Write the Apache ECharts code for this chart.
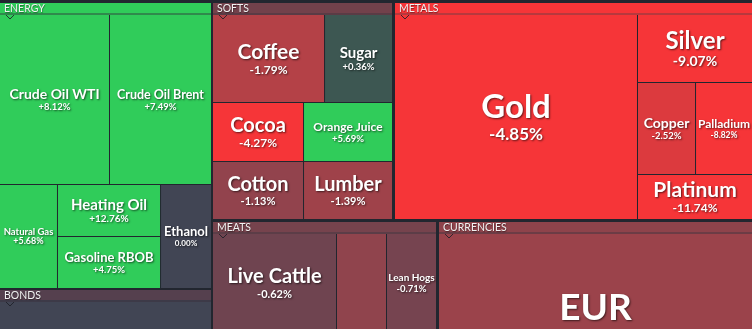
<!DOCTYPE html>
<html>
<head>
<meta charset="utf-8">
<script src="https://cdn.jsdelivr.net/npm/echarts@6/dist/echarts.min.js"></script>
<style>
  html, body { margin: 0; padding: 0; background: #22262f; }
  #chart { width: 752px; height: 329px; }
</style>
</head>
<body>
<div id="chart"></div>
<script>
// ---------------- data ----------------
const groupNames = ['ENERGY', 'BONDS', 'SOFTS', 'METALS', 'MEATS', 'CURRENCIES'];

const energyNames   = ['Crude Oil WTI', 'Crude Oil Brent', 'Natural Gas', 'Heating Oil', 'Gasoline RBOB', 'Ethanol'];
const energyWeights = [18.70, 17.34, 6.03, 5.36, 5.36, 5.30];
const energyChanges = [8.12, 7.49, 5.68, 12.76, 4.75, 0.00];

const bondsNames   = ['30 Year Bond'];
const bondsWeights = [1];
const bondsChanges = [0.00];

const softsNames   = ['Coffee', 'Sugar', 'Cocoa', 'Cotton', 'Orange Juice', 'Lumber'];
const softsWeights = [9.86, 5.98, 5.37, 5.28, 5.25, 5.16];
const softsChanges = [-1.79, 0.36, -4.27, -1.13, 5.69, -1.39];

const metalsNames   = ['Gold', 'Silver', 'Copper', 'Palladium', 'Platinum'];
const metalsWeights = [49.82, 7.82, 5.34, 5.24, 5.18];
const metalsChanges = [-4.85, -9.07, -2.52, -8.82, -11.74];

const meatsNames   = ['Live Cattle', 'Feeder Cattle', 'Lean Hogs'];
const meatsWeights = [124, 50, 50];
const meatsChanges = [-0.62, -1.10, -0.71];

const currenciesNames   = ['EUR'];
const currenciesWeights = [1];
const currenciesChanges = [-1.30];

// ---------------- styles ----------------
const BG = '#22262f';
const FONT = 'Lato';
const colorStops = [[-3, '#f63538'], [-2, '#bf4045'], [-1, '#8b444e'], [0, '#414554'], [1, '#35764e'], [2, '#2f9e4f'], [3, '#30cc5a']];
const headerColor = { ENERGY: '#30cc5a', BONDS: '#55404e', SOFTS: '#72414b', METALS: '#f63538', MEATS: '#76434d', CURRENCIES: '#8e434b' };
const headerLine  = { ENERGY: '#2f8a4c', BONDS: '#3d3a48', SOFTS: '#5a3b45', METALS: '#b8383d', MEATS: '#5c3d47', CURRENCIES: '#6c3c45' };
const boxes = {
  ENERGY:     { left: 0,   top: 3,   width: 211, height: 285 },
  BONDS:      { left: 0,   top: 290, width: 211, height: 140 },
  SOFTS:      { left: 213, top: 3,   width: 179, height: 216 },
  METALS:     { left: 395, top: 3,   width: 357, height: 216 },
  MEATS:      { left: 213, top: 222, width: 223, height: 110 },
  CURRENCIES: { left: 439, top: 222, width: 313, height: 180 }
};
const HEADER_H = 12;
const nameFont = {
  'Crude Oil WTI': 14, 'Crude Oil Brent': 12.5, 'Natural Gas': 9.5, 'Heating Oil': 15, 'Gasoline RBOB': 13, 'Ethanol': 13,
  '30 Year Bond': 12,
  'Coffee': 21, 'Sugar': 15, 'Cocoa': 20, 'Cotton': 20, 'Orange Juice': 12, 'Lumber': 20,
  'Gold': 33, 'Silver': 24, 'Copper': 14, 'Palladium': 12, 'Platinum': 21,
  'Live Cattle': 20, 'Feeder Cattle': 12, 'Lean Hogs': 10,
  'EUR': 37
};
const pctFont = {
  'Crude Oil WTI': 9.5, 'Crude Oil Brent': 9.5, 'Natural Gas': 9, 'Heating Oil': 10, 'Gasoline RBOB': 9.5, 'Ethanol': 8,
  '30 Year Bond': 9,
  'Coffee': 12, 'Sugar': 9.5, 'Cocoa': 12, 'Cotton': 11, 'Orange Juice': 9.5, 'Lumber': 11,
  'Gold': 17, 'Silver': 14, 'Copper': 9.5, 'Palladium': 8.5, 'Platinum': 12,
  'Live Cattle': 11, 'Feeder Cattle': 9, 'Lean Hogs': 9.5,
  'EUR': 18
};
const hiddenLabels = ['Feeder Cattle'];

function hexToRgb(h) { return [1, 3, 5].map(i => parseInt(h.substr(i, 2), 16)); }
function changeColor(v) {
  if (v <= colorStops[0][0]) return colorStops[0][1];
  const last = colorStops[colorStops.length - 1];
  if (v >= last[0]) return last[1];
  for (let i = 0; i < colorStops.length - 1; i++) {
    const a = colorStops[i], b = colorStops[i + 1];
    if (v >= a[0] && v <= b[0]) {
      const t = (v - a[0]) / (b[0] - a[0]);
      const ca = hexToRgb(a[1]), cb = hexToRgb(b[1]);
      return 'rgb(' + ca.map((c, k) => Math.round(c + (cb[k] - c) * t)).join(',') + ')';
    }
  }
  return last[1];
}
function fmtChange(v) { return (v > 0 ? '+' : '') + v.toFixed(2) + '%'; }
function lh(f) { return Math.round(f * 1.1); }

const shadow = { textShadowColor: 'rgba(0,0,0,0.6)', textShadowBlur: 2, textShadowOffsetX: 1, textShadowOffsetY: 1 };

function leafItem(name, weight, change, pads) {
  const nf = nameFont[name] || 12, pf = pctFont[name] || 9;
  return {
    name: name, value: weight, change: change,
    itemStyle: { color: changeColor(change) },
    label: {
      show: hiddenLabels.indexOf(name) < 0,
      position: 'inside', align: 'center', verticalAlign: 'middle',
      padding: [pads[name] || 0, 0, 0, 0],
      overflow: 'none',
      formatter: function (p) { return '{n|' + p.name + '}\n{p|' + fmtChange(p.data.change) + '}'; },
      rich: {
        n: Object.assign({ fontSize: nf, lineHeight: lh(nf), fontWeight: 'bold', fontFamily: FONT, color: '#ffffff', align: 'center' }, shadow),
        p: Object.assign({ fontSize: pf, lineHeight: lh(pf), fontWeight: 'bold', fontFamily: FONT, color: '#ffffff', align: 'center' }, shadow)
      }
    }
  };
}

function groupSeries(gname, names, weights, changes, pads) {
  const b = boxes[gname];
  return {
    type: 'treemap', name: gname,
    left: b.left, top: b.top, width: b.width, height: b.height,
    sort: false, squareRatio: 1, roam: false, nodeClick: false, drillDownIcon: '',
    breadcrumb: { show: false }, animation: false, silent: true,
    emphasis: { disabled: true },
    levels: [
      { itemStyle: { borderWidth: 0, gapWidth: 0, borderColor: BG, color: BG }, upperLabel: { show: false } },
      {
        itemStyle: { borderWidth: 0, gapWidth: 1, borderColor: BG },
        upperLabel: {
          show: true, height: HEADER_H, padding: 0, position: [0, 0], align: 'left', verticalAlign: 'top',
          overflow: 'none', backgroundColor: headerLine[gname],
          formatter: function (p) { return '{h|' + p.name + '}'; },
          rich: {
            h: {
              width: b.width - 4, height: 8, lineHeight: 10, padding: [2, 0, 0, 4],
              backgroundColor: headerColor[gname], color: '#f2f2f2', fontSize: 10.5, fontFamily: FONT,
              align: 'left', textShadowColor: 'rgba(0,0,0,0.45)', textShadowBlur: 1, textShadowOffsetX: 0.5, textShadowOffsetY: 0.5
            }
          }
        }
      },
      { itemStyle: { borderWidth: 0, gapWidth: 0, borderColor: BG } }
    ],
    data: [{
      name: gname,
      itemStyle: { borderColor: BG },
      children: names.map((n, i) => leafItem(n, weights[i], changes[i], pads))
    }]
  };
}

// small notch under each group header (decoration)
function headerNotches() {
  return groupNames.map(function (g) {
    const b = boxes[g];
    return {
      type: 'polyline', silent: true, z: 100,
      shape: { points: [[b.left + 6, b.top + HEADER_H], [b.left + 10, b.top + HEADER_H + 4], [b.left + 14, b.top + HEADER_H]] },
      style: { stroke: 'rgba(30,32,40,0.85)', lineWidth: 1, fill: null }
    };
  });
}

function buildOption(pads) {
  return {
    backgroundColor: BG,
    animation: false,
    tooltip: { show: false },
    graphic: { elements: headerNotches() },
    series: [
      groupSeries(groupNames[0], energyNames, energyWeights, energyChanges, pads),
      groupSeries(groupNames[1], bondsNames, bondsWeights, bondsChanges, pads),
      groupSeries(groupNames[2], softsNames, softsWeights, softsChanges, pads),
      groupSeries(groupNames[3], metalsNames, metalsWeights, metalsChanges, pads),
      groupSeries(groupNames[4], meatsNames, meatsWeights, meatsChanges, pads),
      groupSeries(groupNames[5], currenciesNames, currenciesWeights, currenciesChanges, pads)
    ]
  };
}

const chart = echarts.init(document.getElementById('chart'), null, { renderer: 'canvas' });
chart.setOption(buildOption({}));

// Second pass: centre the two-line rich labels vertically inside each tile,
// using the tile sizes that the treemap layout computed.
const pads = {};
try {
  chart.getModel().getSeries().forEach(function (s) {
    const data = s.getData();
    const tree = data.tree || (s.getViewRoot && s.getViewRoot().hostTree);
    if (!tree) return;
    tree.root.eachNode(function (node) {
      if (node.children && node.children.length) return;
      const l = node.getLayout();
      if (!l) return;
      const nf = nameFont[node.name] || 12, pf = pctFont[node.name] || 9;
      pads[node.name] = Math.max(0, (l.height - lh(nf) - lh(pf)) / 2);
    });
  });
} catch (e) { console.log(e); }
chart.setOption(buildOption(pads), true);
</script>
</body>
</html>
